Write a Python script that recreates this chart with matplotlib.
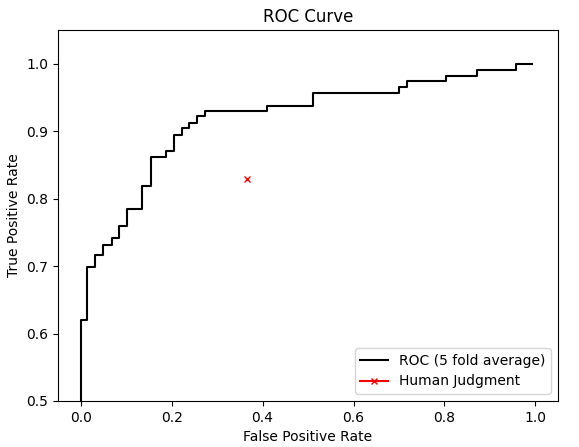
import numpy as np
import matplotlib
matplotlib.use("Agg")
import matplotlib.pyplot as plt

# averaged ROC (step corners)
fpr = [0.0, 0.0, 0.015, 0.032, 0.050, 0.068, 0.084, 0.101, 0.136, 0.154,
       0.187, 0.205, 0.222, 0.238, 0.256, 0.273, 0.410, 0.512, 0.700,
       0.717, 0.804, 0.871, 0.958, 0.993]
tpr = [0.0, 0.620, 0.698, 0.716, 0.731, 0.741, 0.759, 0.784, 0.818, 0.861,
       0.870, 0.895, 0.904, 0.912, 0.922, 0.930, 0.938, 0.956, 0.965,
       0.974, 0.981, 0.990, 1.0, 1.0]

# single human operating point
human_fpr = [0.366]
human_tpr = [0.829]

fig = plt.figure(figsize=(5.79, 4.47), dpi=100)
plt.plot(fpr, tpr, color="black", drawstyle="steps-post", label="ROC (5 fold average)")
plt.plot(human_fpr, human_tpr, color="red", marker="x", markersize=4.5, label="Human Judgment")
plt.xlim(-0.05, 1.05)
plt.ylim(0.5, 1.05)
plt.xlabel("False Positive Rate")
plt.ylabel("True Positive Rate")
plt.title("ROC Curve")
plt.legend(loc="lower right")
plt.subplots_adjust(left=0.1, right=0.964, bottom=0.103, top=0.933)
plt.savefig("out.png", dpi=100)
